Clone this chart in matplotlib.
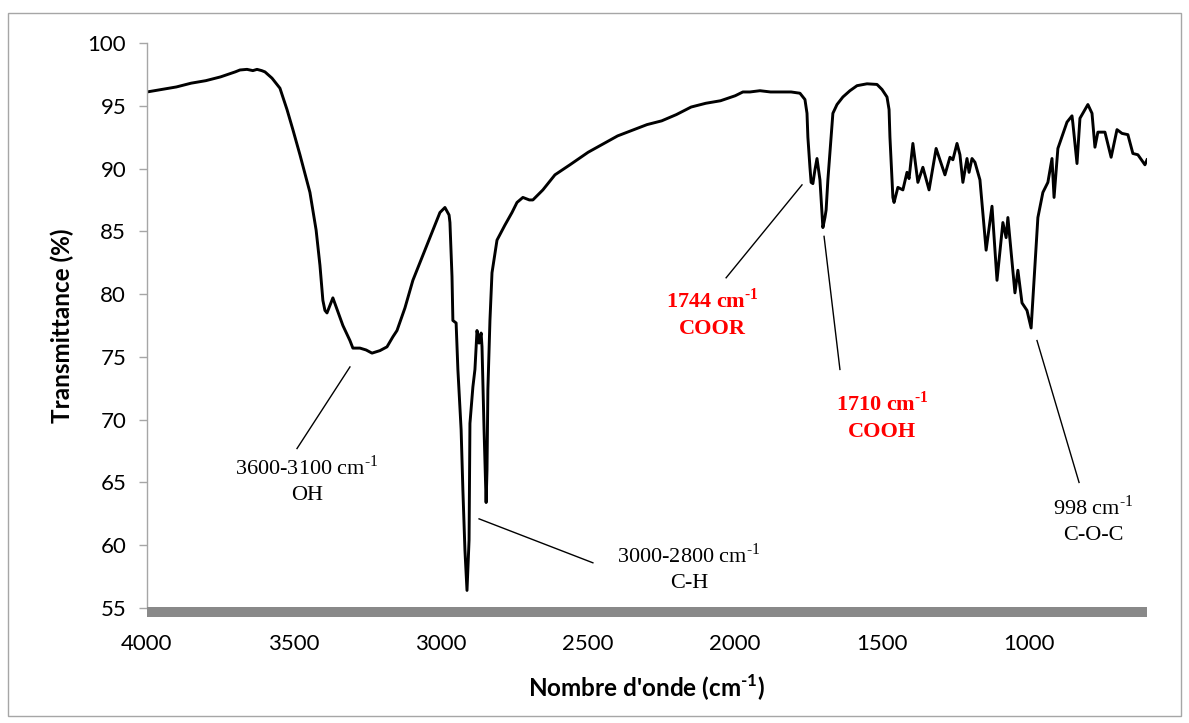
import matplotlib
matplotlib.use("Agg")
import matplotlib.pyplot as plt
from matplotlib.patches import Rectangle

# ---- data: wavenumber (cm-1) and transmittance (%) ----
wavenumber = [4000, 3950, 3900, 3850, 3800, 3750, 3700, 3684, 3660, 3640, 3626, 3610,
              3599, 3575, 3548, 3524, 3504, 3480, 3446, 3425, 3412, 3402, 3395,
              3388, 3368, 3351, 3334, 3310, 3300, 3276, 3255, 3235, 3208, 3184, 3164,
              3150, 3123, 3096, 3062, 3028, 3004, 2987, 2973, 2970, 2963, 2960, 2949,
              2943, 2932, 2926, 2919, 2912, 2905, 2902, 2892, 2885, 2878, 2871, 2864,
              2861, 2854, 2847, 2844, 2841, 2834, 2827, 2810, 2783, 2759, 2742, 2722,
              2700, 2688, 2654, 2613, 2562, 2500, 2400, 2300, 2250, 2200, 2150, 2100,
              2050, 2000, 1974, 1950, 1916, 1880, 1848, 1810, 1780,
              1763, 1756, 1753, 1746, 1742, 1736, 1729, 1722, 1712, 1702,
              1695, 1691, 1685, 1674, 1668, 1654, 1634, 1610, 1586, 1552, 1518, 1501,
              1484, 1477, 1474, 1464, 1460, 1447,
              1430, 1416, 1409, 1396, 1379, 1362, 1341, 1317, 1287, 1270, 1260, 1246,
              1236, 1226, 1212, 1205, 1195, 1185, 1168, 1147, 1127, 1110, 1090, 1079,
              1073, 1049, 1039, 1025, 1008, 994, 971, 954, 937, 923, 916, 903,
              872, 855, 852, 838, 828, 801, 787, 777, 767, 743, 722, 702,
              685, 665, 648, 631, 607, 600]
transmittance = [96.1, 96.3, 96.5, 96.8, 97.0, 97.3, 97.7, 97.85, 97.9, 97.8, 97.9, 97.8,
                 97.7, 97.2, 96.4, 94.7, 93.1, 91.1, 88.1, 85.1, 82.3, 79.5, 78.7,
                 78.5, 79.7, 78.6, 77.5, 76.3, 75.7, 75.7, 75.55, 75.3, 75.5, 75.8, 76.6,
                 77.1, 78.9, 81.1, 83.1, 85.1, 86.5, 86.9, 86.3, 85.7, 81.4, 77.9, 77.7,
                 74.0, 69.2, 64.4, 59.6, 56.4, 60.4, 69.7, 72.6, 74.0, 77.1, 76.1, 76.9,
                 75.8, 69.2, 63.4, 66.0, 72.4, 77.9, 81.7, 84.3, 85.5, 86.5, 87.3, 87.7,
                 87.5, 87.5, 88.3, 89.5, 90.3, 91.3, 92.6, 93.5, 93.8, 94.3, 94.9, 95.2,
                 95.4, 95.8, 96.1, 96.1, 96.2, 96.1, 96.1, 96.1, 96.0,
                 95.5, 94.4, 92.5, 90.1, 88.9, 88.8, 89.9, 90.8, 89.1, 85.3,
                 86.1, 86.7, 89.1, 92.5, 94.4, 95.1, 95.7, 96.2, 96.6, 96.75, 96.7, 96.3,
                 95.7, 94.7, 92.5, 87.7, 87.3, 88.5,
                 88.3, 89.7, 89.2, 92.0, 88.9, 90.1, 88.3, 91.6, 89.5, 90.9, 90.7, 92.0,
                 91.1, 88.9, 90.8, 89.7, 90.8, 90.5, 89.1, 83.5, 87.0, 81.1, 85.7, 84.5,
                 86.1, 80.1, 81.9, 79.3, 78.7, 77.3, 86.1, 88.1, 88.9, 90.8, 87.7, 91.6,
                 93.7, 94.2, 93.6, 90.4, 94.0, 95.1, 94.4, 91.7, 92.9, 92.9, 90.9, 93.1,
                 92.8, 92.7, 91.2, 91.1, 90.3, 90.7]

x_ticks = [4000, 3500, 3000, 2500, 2000, 1500, 1000]
y_ticks = [55, 60, 65, 70, 75, 80, 85, 90, 95, 100]

SUP = "$^{\\mathregular{\u2010" + "1}}$"
ann_line1 = ["3600-3100 cm" + SUP, "3000-2800 cm" + SUP, "1744 cm" + SUP,
             "1710 cm" + SUP, "998 cm" + SUP]
ann_line2 = ["OH", "C-H", "COOR", "COOH", "C-O-C"]
ann_color = ["black", "black", "red", "red", "black"]
ann_bold = [False, False, True, True, False]
ann_text_xy = [(3456, 66.2), (2157, 59.2), (2079, 79.5), (1501, 71.3), (784, 63.0)]
ann_line_start = [(3310, 74.2), (2871, 62.1), (1773, 88.7), (1698, 84.6), (974, 76.3)]
ann_line_end = [(3490, 67.7), (2484, 58.6), (2031, 81.3), (1644, 74.0), (831, 65.0)]

W, H = 1189, 723
fig = plt.figure(figsize=(W / 100, H / 100), dpi=100)
ax = fig.add_axes([147 / W, 1 - 608 / H, 1000 / W, 565 / H])

ax.plot(wavenumber, transmittance, color="black", lw=2.1, solid_joinstyle="round")
ax.set_xlim(4000, 600)
ax.set_ylim(55, 100)
ax.set_xticks(x_ticks)
ax.set_yticks(y_ticks)

tick_font = dict(family=["Lato", "DejaVu Sans"], size=16)
ax.set_xticklabels([str(v) for v in x_ticks], **tick_font)
ax.set_yticklabels([str(v) for v in y_ticks], **tick_font)
ax.tick_params(axis="y", length=6, width=1, color="#a6a6a6", pad=9)
ax.tick_params(axis="x", length=0, pad=19)

for s in ["top", "right", "bottom"]:
    ax.spines[s].set_visible(False)
ax.spines["left"].set_color("#a6a6a6")
ax.spines["left"].set_linewidth(1.0)

fig.add_artist(Rectangle((147 / W, 1 - 617 / H), 1000 / W, 10 / H,
                         transform=fig.transFigure, color="#898989", lw=0))
fig.add_artist(Rectangle((8 / W, 1 - 716 / H), 1173 / W, 703 / H,
                         transform=fig.transFigure, fill=False, edgecolor="#a6a6a6", lw=1.0))

ax.set_ylabel("Transmittance (%)", family=["Lato", "DejaVu Sans"], weight="bold",
              size=17.5, labelpad=10)
ax.set_xlabel("Nombre d'onde (cm" + SUP + ")", family=["Lato", "DejaVu Sans"],
              weight="bold", size=17.5, labelpad=13)

serif = ["Liberation Serif", "DejaVu Serif"]
for l1, l2, c, b, (tx, ty), (sx, sy), (ex, ey) in zip(ann_line1, ann_line2, ann_color, ann_bold,
                                                      ann_text_xy, ann_line_start, ann_line_end):
    w = "bold" if b else "normal"
    ax.text(tx, ty, l1, color=c, weight=w, family=serif, size=16, ha="center", va="center")
    ax.text(tx, ty - 2.25, l2, color=c, weight=w, family=serif, size=16, ha="center", va="center")
    ax.plot([sx, ex], [sy, ey], color="black", lw=1.0, clip_on=False)

fig.savefig("out.png", dpi=100)
